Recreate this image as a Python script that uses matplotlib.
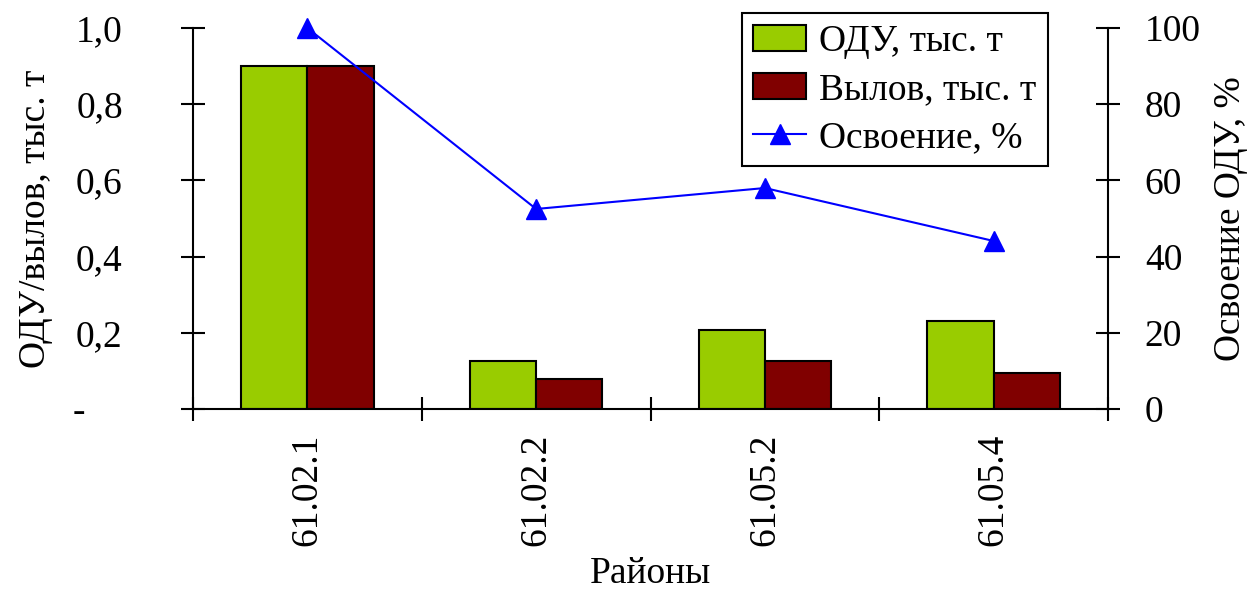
import matplotlib
matplotlib.use('Agg')
import matplotlib.pyplot as plt
import numpy as np

plt.rcParams['font.family'] = ['Liberation Serif', 'DejaVu Serif']

districts = ['61.02.1', '61.02.2', '61.05.2', '61.05.4']
odu = [0.900, 0.126, 0.207, 0.231]
catch = [0.900, 0.079, 0.126, 0.094]
usage = [100.0, 52.5, 58.0, 44.1]

left_ticks = [0, 0.2, 0.4, 0.6, 0.8, 1.0]
left_labels = ['-    ', '0,2', '0,4', '0,6', '0,8', '1,0']
right_ticks = [0, 20, 40, 60, 80, 100]

fs = 27
green = '#99CC00'
darkred = '#800000'
blue = '#0000FF'

fig = plt.figure(figsize=(12.53, 5.94), dpi=100)
ax = fig.add_axes([193 / 1253, 185 / 594, 915 / 1253, 381 / 594])
ax2 = ax.twinx()

x = np.arange(len(districts))
w = 0.29
b1 = ax.bar(x - w / 2, odu, w, color=green, edgecolor='black', linewidth=1.5,
            label='ОДУ, тыс. т')
b2 = ax.bar(x + w / 2, catch, w, color=darkred, edgecolor='black', linewidth=1.5,
            label='Вылов, тыс. т')
ln, = ax2.plot(x, usage, color=blue, linewidth=1.5, marker='^', markersize=14,
               clip_on=False, label='Освоение, %')

ax.set_xlim(-0.5, len(districts) - 0.5)
ax.set_ylim(0, 1.0)
ax2.set_ylim(0, 100)

for a in (ax, ax2):
    a.spines['top'].set_visible(False)
    for s in ('left', 'right', 'bottom'):
        a.spines[s].set_linewidth(1.5)
ax.spines['right'].set_visible(False)
ax2.spines['left'].set_visible(False)
ax2.spines['bottom'].set_visible(False)

ax.set_yticks(left_ticks)
ax.set_yticklabels(left_labels)
ax2.set_yticks(right_ticks)

ax.set_xticks(np.arange(-0.5, len(districts), 1.0))
ax.set_xticklabels([])
ax.set_xticks(x, minor=True)
ax.set_xticklabels(districts, minor=True, rotation=90, fontsize=fs)
ax.tick_params(axis='x', which='major', direction='inout', length=17, width=1.5)
ax.tick_params(axis='x', which='minor', length=0, pad=18)
ax.tick_params(axis='y', direction='inout', length=17, width=1.5, labelsize=fs, pad=42)
ax2.tick_params(axis='y', direction='inout', length=17, width=1.5, labelsize=fs, pad=18)

ax.set_ylabel('ОДУ/вылов, тыс. т', fontsize=fs, labelpad=14)
ax2.set_ylabel('Освоение ОДУ, %', fontsize=fs, labelpad=9)
ax.set_xlabel('Районы', fontsize=fs, labelpad=7)

leg = ax2.legend([b1, b2, ln], ['ОДУ, тыс. т', 'Вылов, тыс. т', 'Освоение, %'],
                 loc='upper right', bbox_to_anchor=(0.934, 1.039), borderaxespad=0,
                 fontsize=fs, fancybox=False, framealpha=1, edgecolor='black',
                 handlelength=1.4, handletextpad=0.35, labelspacing=0.36,
                 borderpad=0.3)
leg.get_frame().set_linewidth(1.5)

fig.savefig('out.png', dpi=100)
